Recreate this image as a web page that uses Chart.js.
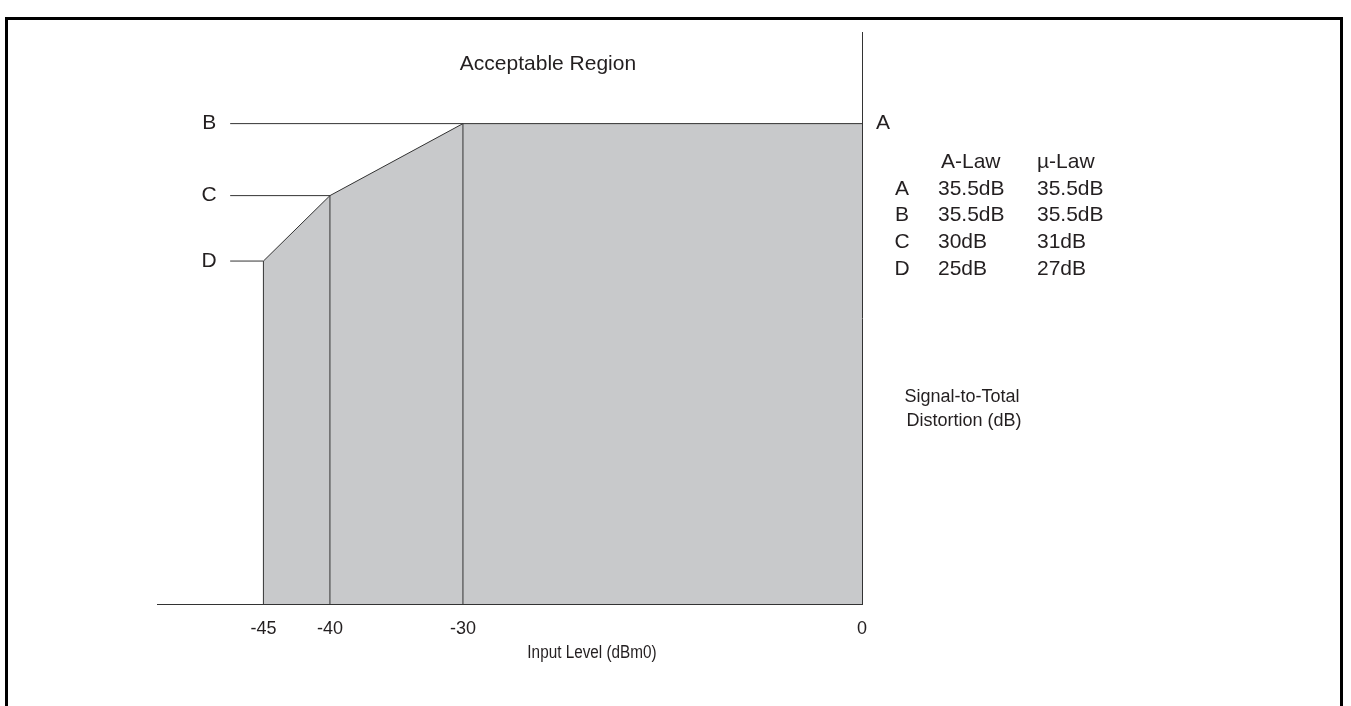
<!DOCTYPE html>
<html>
<head>
<meta charset="utf-8">
<script src="https://cdn.jsdelivr.net/npm/chart.js@4.4.1/dist/chart.umd.min.js"></script>
<style>
html, body { margin: 0; padding: 0; background: #fff; }
#wrap { position: relative; width: 1351px; height: 706px; overflow: hidden; }
#frame { position: absolute; left: 5px; top: 17px; width: 1338px; height: 700px;
         border: 3px solid #000; border-bottom: none; box-sizing: border-box; }
#chart { position: absolute; left: 0; top: 0; }
</style>
</head>
<body>
<div id="wrap">
  <div id="frame"></div>
  <canvas id="chart" width="1351" height="706"></canvas>
</div>
<script>
// ===========================
// DATA
// ===========================

// Input levels of the break points (dBm0), left to right
const levels = [-45, -40, -30, 0];
const pointNames = ["D", "C", "B", "A"];

// Signal-to-total distortion limits (dB)
const aLaw = [25, 30, 35.5, 35.5];
const muLaw = [27, 31, 35.5, 35.5];

// Axis
const tickValues = [-45, -40, -30, 0];
const xMin = -53;
const xMax = 0;
const yMin = -1.2;
const yMax = 42.5;
const leaderStart = -47.5;

const lineColor = "#333";
const textColor = "#231f20";
const fontFamily = "'Liberation Sans', Arial, sans-serif";

// ===========================
// DATASETS
// ===========================

const region = {
    data: levels.map((x, i) => ({ x: x, y: aLaw[i] })),
    fill: "start",
    backgroundColor: "#c8c9cb",
    borderColor: lineColor,
    borderWidth: 1,
    pointRadius: 0,
    showLine: true,
    order: 2
};

// vertical lines under D, C, B
const drops = levels.slice(0, 3).map((x, i) => ({
    data: [{ x: x, y: yMin }, { x: x, y: aLaw[i] }],
    borderColor: lineColor,
    borderWidth: 1,
    pointRadius: 0,
    showLine: true,
    order: 1
}));

// leader lines to labels D, C, B
const leaders = levels.slice(0, 3).map((x, i) => ({
    data: [{ x: leaderStart, y: aLaw[i] }, { x: x, y: aLaw[i] }],
    borderColor: lineColor,
    borderWidth: 1,
    pointRadius: 0,
    showLine: true,
    order: 1
}));

// ===========================
// TEXT
// ===========================

function squeezed(ctx, text, x, y, sx) {
    ctx.save();
    ctx.translate(x, y);
    ctx.scale(sx, 1);
    ctx.fillText(text, 0, 0);
    ctx.restore();
}

const textPlugin = {
    id: "texts",
    afterDraw(chart) {
        const ctx = chart.ctx;
        const xs = chart.scales.x;
        const ys = chart.scales.y;
        ctx.save();
        ctx.fillStyle = textColor;
        ctx.textBaseline = "middle";

        ctx.font = "21px " + fontFamily;
        ctx.textAlign = "center";
        ctx.fillText("Acceptable Region", 548, 64);

        // point labels
        for (let i = 0; i < 3; i++) {
            ctx.fillText(pointNames[i], xs.getPixelForValue(leaderStart) - 21, ys.getPixelForValue(aLaw[i]));
        }
        ctx.fillText("A", xs.getPixelForValue(0) + 21, ys.getPixelForValue(aLaw[3]));

        // limits table
        ctx.textAlign = "left";
        ctx.fillText("A-Law", 941, 162);
        ctx.fillText("\u00b5-Law", 1037, 162);
        const rows = [3, 2, 1, 0];
        rows.forEach((k, r) => {
            const y = 189 + r * 26.7;
            ctx.textAlign = "center";
            ctx.fillText(pointNames[k], 902, y);
            ctx.textAlign = "left";
            ctx.fillText(aLaw[k] + "dB", 938, y);
            ctx.fillText(muLaw[k] + "dB", 1037, y);
        });

        ctx.font = "18px " + fontFamily;
        ctx.textAlign = "center";
        ctx.fillText("Signal-to-Total", 962, 397);
        ctx.fillText("Distortion (dB)", 964, 421);

        // axis title, slightly condensed like the reference
        ctx.font = "18px " + fontFamily;
        squeezed(ctx, "Input Level (dBm0)", 592, 653, 0.85);
        ctx.restore();
    }
};

// ===========================
// CHART
// ===========================

new Chart(document.getElementById("chart"), {

    type: "scatter",

    data: {
        datasets: [region, ...drops, ...leaders]
    },

    options: {

        responsive: false,
        animation: false,

        layout: {
            padding: { left: 157, top: 32, right: 0, bottom: 0 }
        },

        plugins: {
            legend: { display: false },
            tooltip: { enabled: false }
        },

        scales: {

            x: {
                type: "linear",
                min: xMin,
                max: xMax,
                grid: { display: false },
                border: { display: true, color: lineColor, width: 1 },
                afterBuildTicks: s => { s.ticks = tickValues.map(v => ({ value: v })); },
                afterFit: s => { s.height = 102; },
                ticks: {
                    color: textColor,
                    padding: 6,
                    maxRotation: 0,
                    autoSkip: false,
                    font: { family: fontFamily, size: 18 },
                    callback: v => String(v)
                }
            },

            y: {
                type: "linear",
                position: "right",
                min: yMin,
                max: yMax,
                grid: { display: false },
                border: { display: true, color: lineColor, width: 1 },
                ticks: { display: false },
                afterFit: s => { s.width = 489; }
            }

        }

    },

    plugins: [textPlugin]

});
</script>
</body>
</html>
